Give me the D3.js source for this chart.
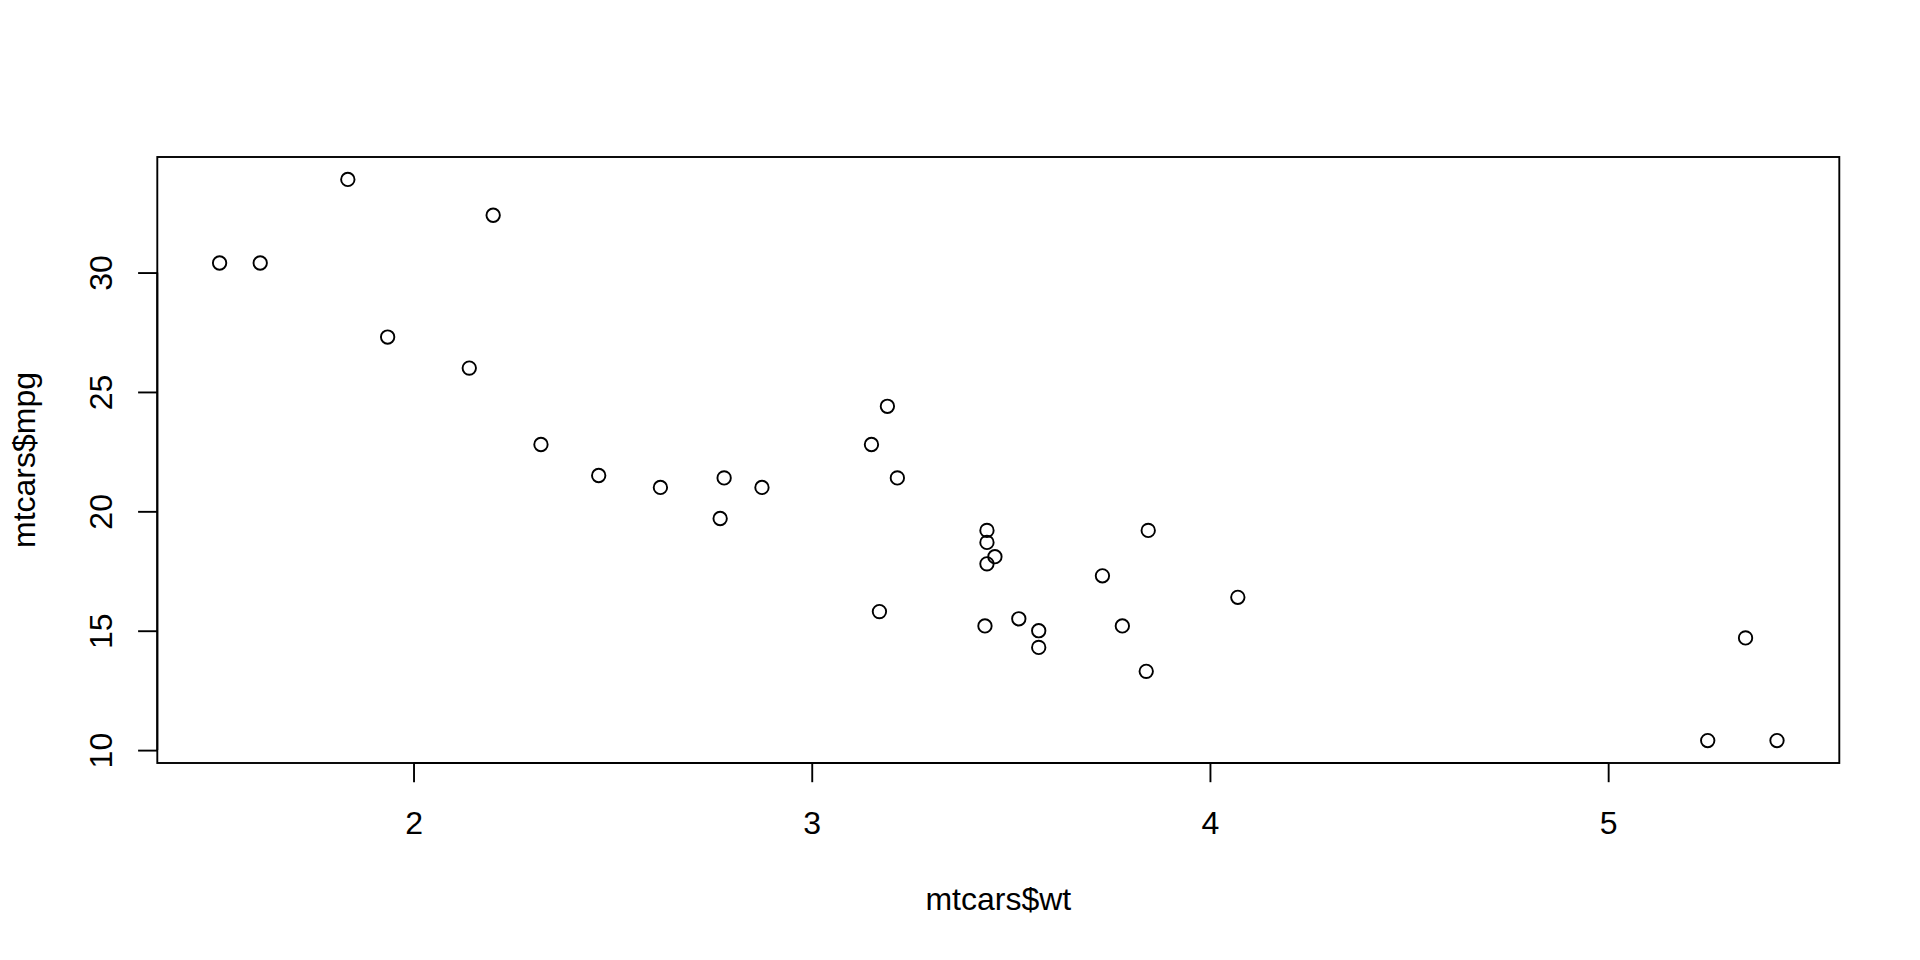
<!DOCTYPE html>
<html>
<head>
<meta charset="utf-8">
<script src="https://cdn.jsdelivr.net/npm/d3@7"></script>
<style>
  html, body { margin: 0; padding: 0; background: #fff; }
  svg { display: block; }
  text { font-family: "Liberation Sans", Arial, Helvetica, sans-serif; fill: #000; }
</style>
</head>
<body>
<svg id="chart" width="1920" height="960"></svg>
<script>
// mtcars data
const wt = [2.620, 2.875, 2.320, 3.215, 3.440, 3.460, 3.570, 3.190, 3.150, 3.440, 3.440, 4.070, 3.730, 3.780, 5.250, 5.424, 5.345, 2.200, 1.615, 1.835, 2.465, 3.520, 3.435, 3.840, 3.845, 1.935, 2.140, 1.513, 3.170, 2.770, 3.570, 2.780];
const mpg = [21.0, 21.0, 22.8, 21.4, 18.7, 18.1, 14.3, 24.4, 22.8, 19.2, 17.8, 16.4, 17.3, 15.2, 10.4, 10.4, 14.7, 32.4, 30.4, 33.9, 21.5, 15.5, 15.2, 13.3, 19.2, 27.3, 26.0, 30.4, 15.8, 19.7, 15.0, 21.4];
const xTicks = [2, 3, 4, 5];
const yTicks = [10, 15, 20, 25, 30];
const xTitle = "mtcars$wt";
const yTitle = "mtcars$mpg";

const W = 1920, H = 960;
const margin = { left: 157.3, right: 80.7, top: 157, bottom: 197 };
const fontSize = 32;

function rExtend(arr) {
  const [a, b] = d3.extent(arr);
  const d = (b - a) * 0.04;
  return [a - d, b + d];
}

const x = d3.scaleLinear().domain(rExtend(wt)).range([margin.left, W - margin.right]);
const y = d3.scaleLinear().domain(rExtend(mpg)).range([H - margin.bottom, margin.top]);

const svg = d3.select("#chart");

// points
const pts = wt.map((w, i) => ({ w, m: mpg[i] }));
svg.append("g")
  .selectAll("circle")
  .data(pts)
  .enter().append("circle")
  .attr("cx", d => x(d.w))
  .attr("cy", d => y(d.m))
  .attr("r", 6.7)
  .attr("fill", "none")
  .attr("stroke", "#000")
  .attr("stroke-width", 1.9);

// box
svg.append("rect")
  .attr("x", margin.left)
  .attr("y", margin.top)
  .attr("width", W - margin.left - margin.right)
  .attr("height", H - margin.top - margin.bottom)
  .attr("fill", "none")
  .attr("stroke", "#000")
  .attr("stroke-width", 1.9);

// x axis
const xAxis = d3.axisBottom(x).tickValues(xTicks).tickSize(19.2).tickFormat(d3.format("d"));
const gx = svg.append("g")
  .attr("transform", `translate(0,${H - margin.bottom})`)
  .call(xAxis);
gx.select(".domain")
  .attr("d", `M${x(xTicks[0])},0H${x(xTicks[xTicks.length - 1])}`)
  .attr("stroke-width", 1.9);
gx.selectAll(".tick line").attr("stroke-width", 1.9);
gx.selectAll(".tick text")
  .attr("y", 71)
  .attr("dy", null)
  .style("font-size", fontSize + "px")
  .style("font-family", '"Liberation Sans", Arial, sans-serif')
  .attr("fill", "#000");

// y axis
const yAxis = d3.axisLeft(y).tickValues(yTicks).tickSize(19.2).tickFormat(d3.format("d"));
const gy = svg.append("g")
  .attr("transform", `translate(${margin.left},0)`)
  .call(yAxis);
gy.select(".domain")
  .attr("d", `M0,${y(yTicks[0])}V${y(yTicks[yTicks.length - 1])}`)
  .attr("stroke-width", 1.9);
gy.selectAll(".tick line").attr("stroke-width", 1.9);
gy.selectAll(".tick text")
  .attr("x", null)
  .attr("dy", null)
  .attr("transform", "translate(-45,0) rotate(-90)")
  .attr("text-anchor", "middle")
  .style("font-size", fontSize + "px")
  .style("font-family", '"Liberation Sans", Arial, sans-serif')
  .attr("fill", "#000");

// titles
const cx = (margin.left + W - margin.right) / 2;
const cy = (margin.top + H - margin.bottom) / 2;
svg.append("text")
  .attr("x", cx)
  .attr("y", 910)
  .attr("text-anchor", "middle")
  .style("font-size", fontSize + "px")
  .text(xTitle);
svg.append("text")
  .attr("transform", `translate(35,${cy}) rotate(-90)`)
  .attr("text-anchor", "middle")
  .style("font-size", fontSize + "px")
  .text(yTitle);
</script>
</body>
</html>
